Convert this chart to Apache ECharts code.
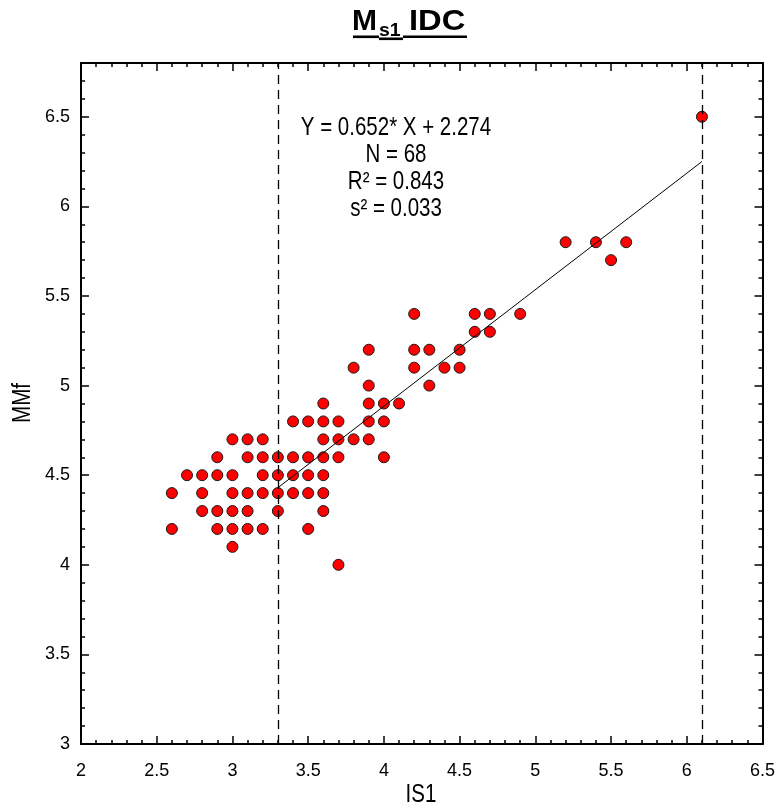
<!DOCTYPE html>
<html>
<head>
<meta charset="utf-8">
<script src="https://cdn.jsdelivr.net/npm/echarts@6/dist/echarts.min.js"></script>
<style>
html,body{margin:0;padding:0;background:#fff;}
#chart{width:778px;height:811px;}
</style>
</head>
<body>
<div id="chart"></div>
<script>
// IS1 (x) and MMf (y) values, paired by index
var is1Values = [
  3.0,
  2.6, 2.9, 3.0, 3.1, 3.2, 3.5,
  2.8, 2.9, 3.0, 3.1, 3.3, 3.6,
  2.6, 2.8, 3.0, 3.1, 3.2, 3.3, 3.4, 3.5, 3.6,
  2.7, 2.8, 2.9, 3.0, 3.2, 3.3, 3.4, 3.5, 3.6,
  2.9, 3.1, 3.2, 3.3, 3.4, 3.5, 3.6, 3.7, 4.0,
  3.0, 3.1, 3.2, 3.6, 3.7, 3.8, 3.9,
  3.4, 3.5, 3.6, 3.7, 3.9, 4.0,
  3.6, 3.9, 4.0, 4.1,
  3.9, 4.3,
  3.8, 4.2, 4.4, 4.5,
  3.9, 4.2, 4.3, 4.5,
  4.6, 4.7,
  4.2, 4.6, 4.7, 4.9,
  5.5,
  5.2, 5.4, 5.6,
  6.1,
  3.7
];
var mmfValues = [
  4.1,
  4.2, 4.2, 4.2, 4.2, 4.2, 4.2,
  4.3, 4.3, 4.3, 4.3, 4.3, 4.3,
  4.4, 4.4, 4.4, 4.4, 4.4, 4.4, 4.4, 4.4, 4.4,
  4.5, 4.5, 4.5, 4.5, 4.5, 4.5, 4.5, 4.5, 4.5,
  4.6, 4.6, 4.6, 4.6, 4.6, 4.6, 4.6, 4.6, 4.6,
  4.7, 4.7, 4.7, 4.7, 4.7, 4.7, 4.7,
  4.8, 4.8, 4.8, 4.8, 4.8, 4.8,
  4.9, 4.9, 4.9, 4.9,
  5.0, 5.0,
  5.1, 5.1, 5.1, 5.1,
  5.2, 5.2, 5.2, 5.2,
  5.3, 5.3,
  5.4, 5.4, 5.4, 5.4,
  5.7,
  5.8, 5.8, 5.8,
  6.5,
  4.0
];
// regression line endpoints
var fitX = [3.3, 6.1];
var fitY = [4.43, 6.25];
// dashed reference lines
var refLinesX = [3.3, 6.1];
var statsLines = ['Y = 0.652* X + 2.274', 'N = 68', 'R\u00B2 = 0.843', 's\u00B2 = 0.033'];
var xAxisName = 'IS1';
var yAxisName = 'MMf';

// detect whether a narrow font is installed
function fontAvailable(name) {
  var c = document.createElement('canvas').getContext('2d');
  var s = 'Y = 0.652* X + 2.274 MMf IS1';
  c.font = '40px monospace';
  var w1 = c.measureText(s).width;
  c.font = '40px "' + name + '", monospace';
  var w2 = c.measureText(s).width;
  return Math.abs(w1 - w2) > 0.5;
}
var hasNarrow = fontAvailable('Liberation Sans Narrow');
var narrowFamily = hasNarrow ? 'Liberation Sans Narrow' : 'Liberation Sans';
var narrowScale = hasNarrow ? 1 : 0.82;

var chart = echarts.init(document.getElementById('chart'), null, {renderer: 'canvas'});

var scatterData = is1Values.map(function (x, i) { return [x, mmfValues[i]]; });
var fitData = fitX.map(function (x, i) { return [x, fitY[i]]; });

var tickFont = 'Liberation Sans';

function xAx(pos, showLabels) {
  return {
    type: 'value', position: pos, min: 2, max: 6.5, interval: 0.5,
    axisLine: {show: true, onZero: false, lineStyle: {color: '#000', width: 2}},
    axisTick: {show: true, inside: true, length: 8, lineStyle: {color: '#000', width: 1.5}},
    minorTick: {show: true, splitNumber: 5, length: 4, lineStyle: {color: '#000', width: 1.5}},
    axisLabel: {show: showLabels, margin: 18, fontFamily: tickFont, fontSize: 18, color: '#000'},
    splitLine: {show: false}, minorSplitLine: {show: false}
  };
}
function yAx(pos, showLabels) {
  return {
    type: 'value', position: pos, min: 3, max: 6.8, interval: 0.5,
    axisLine: {show: true, onZero: false, lineStyle: {color: '#000', width: 2}},
    axisTick: {show: true, inside: true, length: 8, lineStyle: {color: '#000', width: 1.5}},
    minorTick: {show: true, splitNumber: 5, length: 4, lineStyle: {color: '#000', width: 1.5}},
    axisLabel: {show: showLabels, margin: 11, fontFamily: tickFont, fontSize: 18, color: '#000',
      formatter: function (v) { return v > 6.6 ? '' : String(v); }},
    splitLine: {show: false}, minorSplitLine: {show: false}
  };
}

var statsGraphics = statsLines.map(function (t, i) {
  return {
    type: 'text', x: 396, y: 128 + i * 27, scaleX: narrowScale, scaleY: 1,
    style: {text: t, fill: '#000', fontFamily: narrowFamily, fontSize: 25,
      align: 'center', verticalAlign: 'middle', textAlign: 'center', textVerticalAlign: 'middle'}
  };
});

var nameGraphics = [
  {type: 'text', x: 421, y: 795, scaleX: narrowScale, scaleY: 1,
    style: {text: xAxisName, fill: '#000', fontFamily: narrowFamily, fontSize: 25,
      align: 'center', verticalAlign: 'middle', textAlign: 'center', textVerticalAlign: 'middle'}},
  {type: 'text', x: 23, y: 403, rotation: Math.PI / 2, scaleX: narrowScale, scaleY: 1,
    style: {text: yAxisName, fill: '#000', fontFamily: narrowFamily, fontSize: 25,
      align: 'center', verticalAlign: 'middle', textAlign: 'center', textVerticalAlign: 'middle'}}
];

function tText(txt, x, y, size, sx) {
  return {type: 'text', x: x, y: y, scaleX: sx || 1, scaleY: 1,
    style: {text: txt, fill: '#000', fontFamily: 'Liberation Sans', fontWeight: 'bold', fontSize: size,
      align: 'left', verticalAlign: 'middle', textAlign: 'left', textVerticalAlign: 'middle'}};
}
var titleGraphics = [
  tText('M', 352, 22, 30),
  tText('s1', 379, 31, 18, 1.08),
  tText('IDC', 409, 22, 30, 1.09),
  {type: 'rect', shape: {x: 353, y: 35.5, width: 26, height: 2.6}, style: {fill: '#000'}},
  {type: 'rect', shape: {x: 379, y: 37.5, width: 24, height: 2.6}, style: {fill: '#000'}},
  {type: 'rect', shape: {x: 403, y: 35.5, width: 64, height: 2.6}, style: {fill: '#000'}}
];

chart.setOption({
  animation: false,
  backgroundColor: '#fff',
  grid: {left: 81, right: 14, top: 63, bottom: 67, containLabel: false},
  xAxis: [xAx('bottom', true), xAx('top', false)],
  yAxis: [yAx('left', true), yAx('right', false)],
  graphic: titleGraphics.concat(statsGraphics).concat(nameGraphics),
  series: [
    {
      type: 'scatter', xAxisIndex: 0, yAxisIndex: 0, data: scatterData,
      symbol: 'circle', symbolSize: 11, z: 3,
      itemStyle: {color: '#ff0000', borderColor: '#1a1a1a', borderWidth: 1, opacity: 1},
      markLine: {
        silent: true, symbol: ['none', 'none'], label: {show: false},
        lineStyle: {color: '#000', width: 1.3, type: [9, 6]},
        data: refLinesX.map(function (v) { return {xAxis: v}; })
      }
    },
    {
      type: 'line', xAxisIndex: 0, yAxisIndex: 0, data: fitData, z: 4,
      showSymbol: false, symbol: 'none',
      lineStyle: {color: '#000', width: 1}
    }
  ]
});
</script>
</body>
</html>
